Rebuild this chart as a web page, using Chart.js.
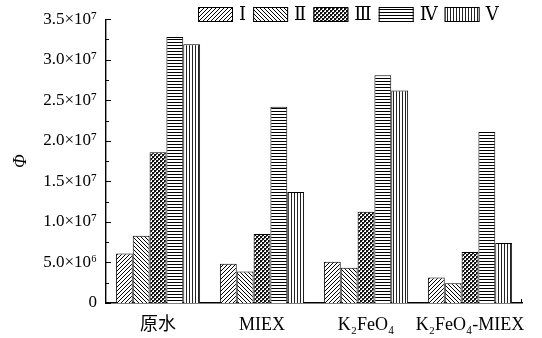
<!DOCTYPE html>
<html>
<head>
<meta charset="utf-8">
<style>
  html, body { margin: 0; padding: 0; background: #fff; }
  #wrap { width: 542px; height: 338px; }
</style>
<script src="https://cdn.jsdelivr.net/npm/chart.js@4/dist/chart.umd.min.js"></script>
</head>
<body>
<div id="wrap"><canvas id="c" width="542" height="338"></canvas></div>
<script>
// Categories (treatment) and Φ values for each series
const categories = ['原水', 'MIEX', 'K₂FeO₄', 'K₂FeO₄-MIEX'];
const seriesNames = ['Ⅰ', 'Ⅱ', 'Ⅲ', 'Ⅳ', 'Ⅴ'];
const seriesI   = [6.1e6, 4.85e6, 5.1e6, 3.15e6];
const seriesII  = [8.3e6, 3.9e6, 4.35e6, 2.45e6];
const seriesIII = [18.6e6, 8.5e6, 11.25e6, 6.3e6];
const seriesIV  = [32.8e6, 24.2e6, 28.1e6, 21.1e6];
const seriesV   = [31.9e6, 13.7e6, 26.2e6, 7.4e6];
const yTickValues = [0, 5e6, 1e7, 1.5e7, 2e7, 2.5e7, 3e7, 3.5e7];

const SERIF = '"Liberation Serif", "DejaVu Serif", "Noto Sans CJK SC", serif';

// Hatch fills
function makePattern(kind) {
  const c = document.createElement('canvas');
  const s = kind === 'h' || kind === 'v' ? 3 : 4;
  c.width = s; c.height = s;
  const g = c.getContext('2d');
  g.fillStyle = '#fff';
  g.fillRect(0, 0, s, s);
  g.strokeStyle = '#000';
  g.fillStyle = '#000';
  g.lineWidth = 1;
  if (kind === 'fwd') {
    g.beginPath();
    g.moveTo(-1, s + 1); g.lineTo(s + 1, -1);
    g.moveTo(-1, 1); g.lineTo(1, -1);
    g.moveTo(s - 1, s + 1); g.lineTo(s + 1, s - 1);
    g.stroke();
  } else if (kind === 'back') {
    g.beginPath();
    g.moveTo(-1, -1); g.lineTo(s + 1, s + 1);
    g.moveTo(s - 1, -1); g.lineTo(s + 1, 1);
    g.moveTo(-1, s - 1); g.lineTo(1, s + 1);
    g.stroke();
  } else if (kind === 'check') {
    g.fillStyle = '#111';
    g.fillRect(0, 0, 2, 2);
    g.fillRect(2, 2, 2, 2);
    g.fillStyle = '#666';
    g.fillRect(2, 0, 1, 1);
    g.fillRect(0, 2, 1, 1);
  } else if (kind === 'h') {
    g.fillRect(0, 0, s, 1);
  } else if (kind === 'v') {
    g.fillStyle = '#222';
    g.fillRect(0, 0, 1, s);
  }
  return g.createPattern(c, 'repeat');
}

const fills = [makePattern('fwd'), makePattern('back'), makePattern('check'), makePattern('h'), makePattern('v')];
const seriesData = [seriesI, seriesII, seriesIII, seriesIV, seriesV];

function sciLabel(v) {
  if (v === 0) return '0';
  const sup = { '0': '⁰', '1': '¹', '2': '²', '3': '³', '4': '⁴', '5': '⁵', '6': '⁶', '7': '⁷', '8': '⁸', '9': '⁹' };
  const e = Math.floor(Math.log10(v) + 1e-9);
  const m = v / Math.pow(10, e);
  return m.toFixed(1) + '×10' + String(e).split('').map(ch => sup[ch]).join('');
}

// Inward major/minor ticks on the value axis plus the end mark on the category axis
const tickMarks = {
  id: 'tickMarks',
  afterDatasetsDraw(chart) {
    const { ctx, chartArea } = chart;
    const y = chart.scales.y;
    ctx.save();
    ctx.strokeStyle = '#000';
    ctx.lineWidth = 1;
    const step = 2.5e6;
    for (let v = 0; v <= y.max + 1; v += step) {
      const py = Math.round(y.getPixelForValue(v)) + 0.5;
      const major = Math.abs((v / 5e6) - Math.round(v / 5e6)) < 1e-6;
      const len = major ? 5 : 3;
      ctx.beginPath();
      ctx.moveTo(chartArea.left, py);
      ctx.lineTo(chartArea.left + len, py);
      ctx.stroke();
    }
    ctx.beginPath();
    ctx.moveTo(chartArea.right - 0.5, chartArea.bottom);
    ctx.lineTo(chartArea.right - 0.5, chartArea.bottom - 4);
    ctx.stroke();
    ctx.restore();
  }
};

// Legend row drawn along the top edge
const topLegend = {
  id: 'topLegend',
  afterDraw(chart) {
    const { ctx } = chart;
    const boxW = 35, boxH = 15, top = 7;
    let x = 198;
    ctx.save();
    ctx.font = '18px ' + SERIF;
    ctx.textBaseline = 'middle';
    ctx.textAlign = 'left';
    chart.data.datasets.forEach((ds) => {
      ctx.fillStyle = ds.backgroundColor;
      ctx.fillRect(x, top, boxW, boxH);
      ctx.strokeStyle = '#000';
      ctx.lineWidth = 1;
      ctx.strokeRect(x + 0.5, top + 0.5, boxW - 1, boxH - 1);
      x += boxW + 6;
      ctx.fillStyle = '#000';
      ctx.fillText(ds.label, x, top + boxH / 2 + 1);
      x += ctx.measureText(ds.label).width + 7;
    });
    ctx.restore();
  }
};

new Chart(document.getElementById('c'), {
  type: 'bar',
  data: {
    labels: categories,
    datasets: seriesNames.map((name, i) => ({
      label: name,
      data: seriesData[i],
      backgroundColor: fills[i],
      borderColor: '#000',
      borderWidth: 1,
      borderSkipped: 'bottom',
      categoryPercentage: 0.81,
      barPercentage: 1.0
    }))
  },
  options: {
    responsive: false,
    animation: false,
    devicePixelRatio: 1,
    layout: { padding: { top: 16, right: 20, left: 0, bottom: 0 } },
    plugins: { legend: { display: false }, tooltip: { enabled: false } },
    scales: {
      x: {
        grid: { display: false, drawTicks: false, tickLength: 0 },
        border: { display: true, color: '#000', width: 1.4 },
        ticks: {
          color: '#000',
          padding: 11,
          maxRotation: 0,
          autoSkip: false,
          font: { family: SERIF, size: 18 }
        },
        afterFit(scale) { scale.height = 35; }
      },
      y: {
        min: 0,
        max: 3.5e7,
        grid: { display: false, drawTicks: false, tickLength: 0 },
        border: { display: true, color: '#000', width: 1.4 },
        afterBuildTicks(scale) { scale.ticks = yTickValues.map(v => ({ value: v })); },
        ticks: {
          color: '#000',
          padding: 9,
          font: { family: SERIF, size: 17 },
          callback: (v) => sciLabel(v)
        },
        title: {
          display: true,
          text: 'Φ',
          color: '#000',
          padding: { top: 10, bottom: 0 },
          font: { family: SERIF, size: 18, style: 'italic' }
        },
        afterFit(scale) { scale.width = 106; }
      }
    }
  },
  plugins: [tickMarks, topLegend]
});
</script>
</body>
</html>
